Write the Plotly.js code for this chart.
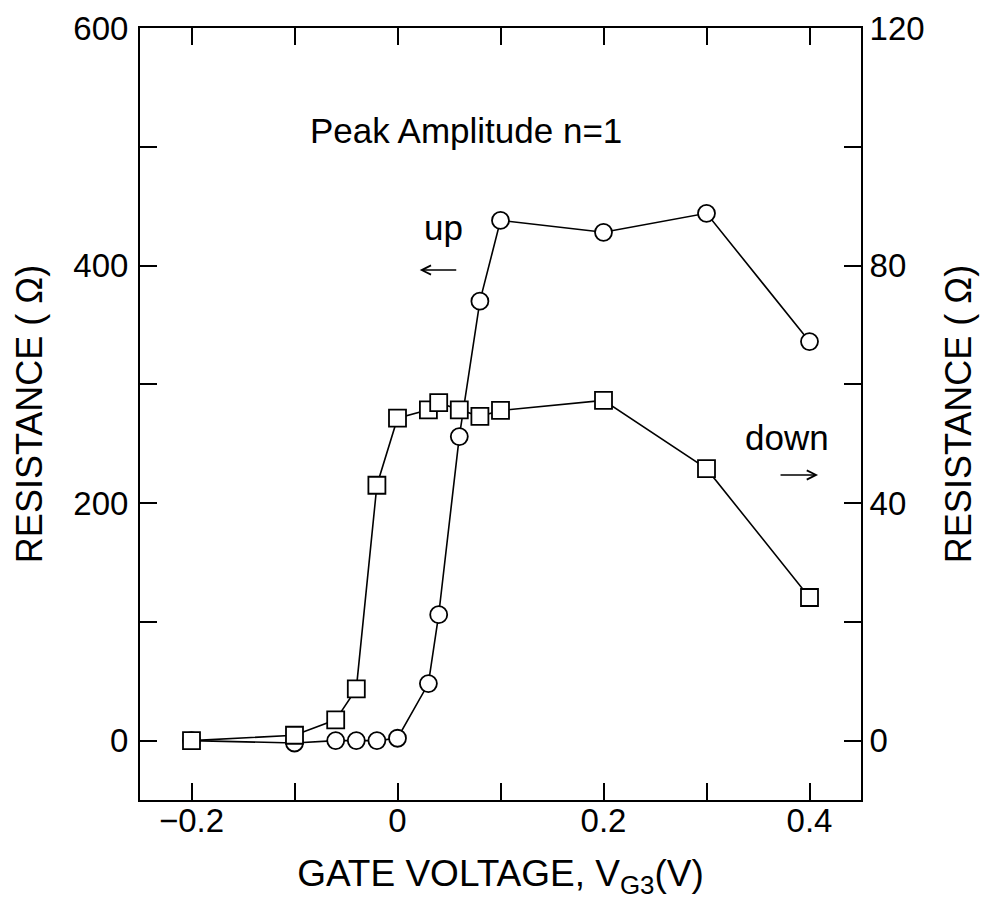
<!DOCTYPE html>
<html>
<head>
<meta charset="utf-8">
<script src="https://cdn.plot.ly/plotly-3.0.1.min.js"></script>
<style>html,body{margin:0;padding:0;background:#fff;}#chart{width:987px;height:923px;}</style>
</head>
<body>
<div id="chart"></div>
<script>
// "up" sweep, circles, left axis (Ohm)
var upVoltage = [-0.2, -0.1, -0.06, -0.04, -0.02, 0, 0.03, 0.04, 0.06, 0.08, 0.1, 0.2, 0.3, 0.4];
var upResistance = [0, -2, 0, 0, 0, 2, 48, 106, 256, 370, 438, 428, 444, 336];
// "down" sweep, squares, right axis (Ohm)
var downVoltage = [-0.2, -0.1, -0.06, -0.04, -0.02, 0, 0.03, 0.04, 0.06, 0.08, 0.1, 0.2, 0.3, 0.4];
var downResistance = [0, 0.9, 3.5, 8.7, 43, 54.3, 55.7, 56.9, 55.7, 54.6, 55.6, 57.3, 45.8, 24.1];

var xTickVals = [-0.2, -0.1, 0, 0.1, 0.2, 0.3, 0.4];
var xTickText = ["\u22120.2", "", "0", "", "0.2", "", "0.4"];
var yTickVals = [0, 100, 200, 300, 400, 500, 600];
var yTickText = ["0", "", "200", "", "400", "", "600"];
var y2TickVals = [0, 20, 40, 60, 80, 100, 120];
var y2TickText = ["0", "", "40", "", "80", "", "120"];

var FONT = "Liberation Sans, Arial, Helvetica, sans-serif";

var traces = [
  {
    x: upVoltage, y: upResistance, yaxis: 'y', type: 'scatter', mode: 'lines+markers',
    line: {color: '#000', width: 1.6},
    marker: {symbol: 'circle', size: 17, color: '#fff', line: {color: '#000', width: 1.8}},
    showlegend: false, hoverinfo: 'x+y'
  },
  {
    x: downVoltage, y: downResistance, yaxis: 'y2', type: 'scatter', mode: 'lines+markers',
    line: {color: '#000', width: 1.6},
    marker: {symbol: 'square', size: 17, color: '#fff', line: {color: '#000', width: 1.8}},
    showlegend: false, hoverinfo: 'x+y'
  }
];

var axisCommon = {
  showgrid: false, zeroline: false, showline: true, linecolor: '#000', linewidth: 2,
  ticks: 'inside', ticklen: 17, tickwidth: 2, tickcolor: '#000',
  tickfont: {family: FONT, size: 33, color: '#000'}
};

var layout = {
  width: 987, height: 923,
  paper_bgcolor: '#fff', plot_bgcolor: '#fff',
  margin: {l: 140, r: 126, t: 28, b: 123},
  font: {family: FONT, color: '#000'},
  xaxis: Object.assign({}, axisCommon, {
    range: [-0.25, 0.45], tickmode: 'array', tickvals: xTickVals, ticktext: xTickText,
    mirror: 'ticks', ticklabelstandoff: -10,
    title: {text: 'GATE VOLTAGE, V<sub>G3</sub>(V)', font: {family: FONT, size: 37, color: '#000'}, standoff: 23}
  }),
  yaxis: Object.assign({}, axisCommon, {
    range: [-50, 600], tickmode: 'array', tickvals: yTickVals, ticktext: yTickText,
    ticklabelstandoff: 3,
    title: {text: 'RESISTANCE ( \u03A9)', font: {family: FONT, size: 36, color: '#000'}, standoff: 20}
  }),
  yaxis2: Object.assign({}, axisCommon, {
    range: [-10, 120], tickmode: 'array', tickvals: y2TickVals, ticktext: y2TickText,
    overlaying: 'y', side: 'right',
    title: {text: 'RESISTANCE ( \u03A9)', font: {family: FONT, size: 36, color: '#000'}, standoff: 22}
  }),
  annotations: [
    {xref: 'paper', yref: 'paper', x: 0.452, y: 0.867, xanchor: 'center', yanchor: 'middle',
     text: 'Peak Amplitude n=1', showarrow: false, font: {family: FONT, size: 35, color: '#000'}},
    {xref: 'paper', yref: 'paper', x: 0.4216, y: 0.741, xanchor: 'center', yanchor: 'middle',
     text: 'up', showarrow: false, font: {family: FONT, size: 35, color: '#000'}},
    {xref: 'paper', yref: 'paper', x: 0.388, y: 0.6865, text: '', showarrow: true,
     ax: 38, ay: 0, arrowhead: 5, arrowsize: 1.3, arrowwidth: 1.4, arrowcolor: '#000'},
    {xref: 'paper', yref: 'paper', x: 0.8967, y: 0.47, xanchor: 'center', yanchor: 'middle',
     text: 'down', showarrow: false, font: {family: FONT, size: 35, color: '#000'}},
    {xref: 'paper', yref: 'paper', x: 0.9404, y: 0.421, text: '', showarrow: true,
     ax: -39, ay: 0, arrowhead: 5, arrowsize: 1.3, arrowwidth: 1.4, arrowcolor: '#000'}
  ]
};

Plotly.newPlot('chart', traces, layout, {displayModeBar: false, staticPlot: true});
</script>
</body>
</html>
